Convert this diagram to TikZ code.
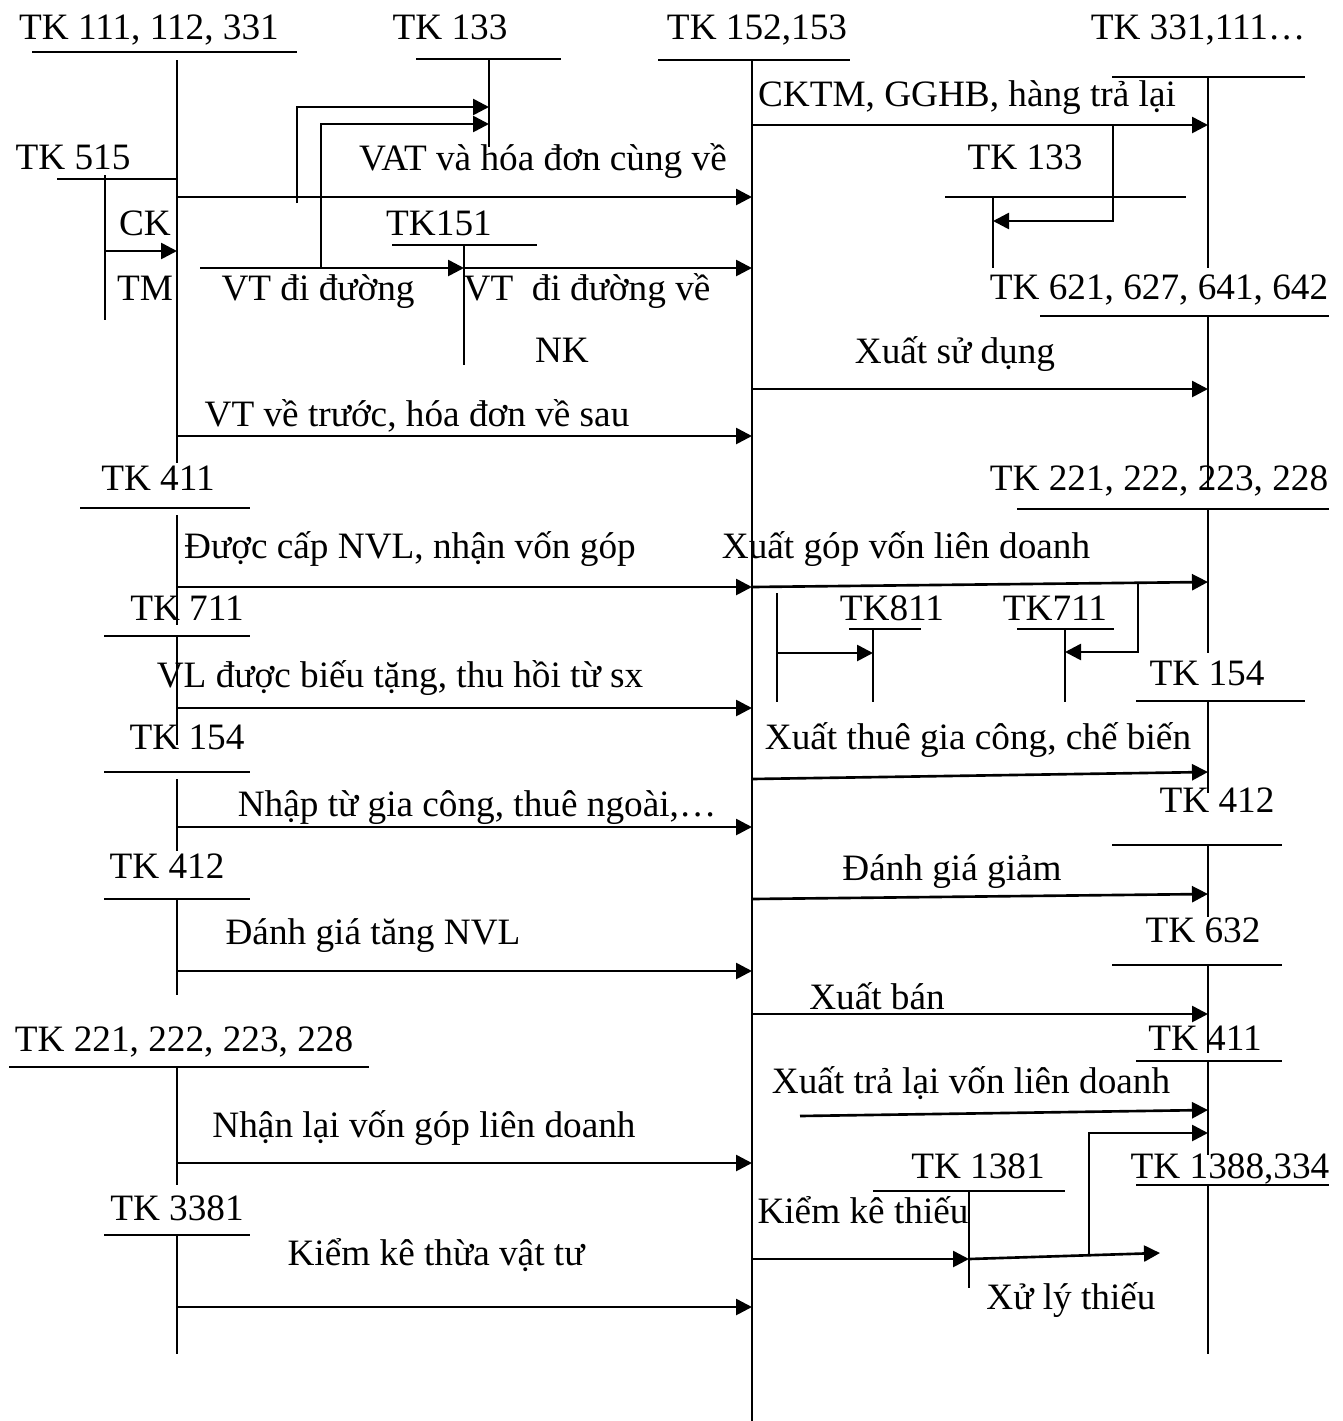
\documentclass[tikz,border=0pt]{standalone}
\usepackage{fontspec}
\setmainfont{Liberation Serif}
\usepackage{tikz}
\usetikzlibrary{arrows.meta,positioning}

\begin{document}
\begin{tikzpicture}[
    x=0.02cm, y=-0.02cm,
    every node/.style={font=\fontsize{21.2}{25}\selectfont, inner sep=0pt, text height=14pt, text depth=0pt},
    tline/.style={line width=1.1pt},
    arr/.style={-{Triangle[length=0.32cm, width=0.32cm]}, line width=1.5pt}
]
\useasboundingbox (0,0) rectangle (1343,1421);

% account titles
\node (tk111) at (149,27) {TK 111, 112, 331};
\node (tk133a) at (450,27) {TK 133};
\node (tk152) at (757,27) {TK 152,153};
\node (tk331) at (1198,27) {TK 331,111…};
\node (tk515) at (73,157) {TK 515};
\node (tk133b) at (1025,157) {TK 133};
\node (tk151) at (439,223) {TK151};
\node (tk621) at (1159,287) {TK 621, 627, 641, 642};
\node (tk411a) at (158,478) {TK 411};
\node (tk221b) at (1159,478) {TK 221, 222, 223, 228};
\node (tk711a) at (187,608) {TK 711};
\node (tk811) at (892,608) {TK811};
\node (tk711b) at (1055,608) {TK711};
\node (tk154b) at (1207,673) {TK 154};
\node (tk154a) at (187,737) {TK 154};
\node (tk412b) at (1217,800) {TK 412};
\node (tk412a) at (167,866) {TK 412};
\node (tk632) at (1203,930) {TK 632};
\node (tk221a) at (184,1039) {TK 221, 222, 223, 228};
\node (tk411b) at (1205,1038) {TK 411};
\node (tk1381) at (978,1166) {TK 1381};
\node (tk1388) at (1230,1166) {TK 1388,334};
\node (tk3381) at (177,1208) {TK 3381};

% texts on the arrows
\node (lblcktm) at (967,94) {CKTM, GGHB, hàng trả lại};
\node (lblvat) at (543,158) {VAT và hóa đơn cùng về};
\node (lblck) at (145,223) {CK};
\node (lbltm) at (145,288) {TM};
\node (lblvtdd) at (318,288) {VT đi đường};
\node (lblvtve) at (587,288) {VT\ \ đi đường về};
\node (lblnk) at (562,350) {NK};
\node (lblxsd) at (955,351) {Xuất sử dụng};
\node (lblvttr) at (417,414) {VT về trước, hóa đơn về sau};
\node (lblcap) at (410,546) {Được cấp NVL, nhận vốn góp};
\node (lblgop) at (906,546) {Xuất góp vốn liên doanh};
\node (lblbieu) at (400,675) {VL được biếu tặng, thu hồi từ sx};
\node (lblthue) at (978,737) {Xuất thuê gia công, chế biến};
\node (lblnhap) at (477,804) {Nhập từ gia công, thuê ngoài,…};
\node (lblgiam) at (952,868) {Đánh giá giảm};
\node (lbltang) at (373,932) {Đánh giá tăng NVL};
\node (lblban) at (877,997) {Xuất bán};
\node (lbltra) at (971,1081) {Xuất trả lại vốn liên doanh};
\node (lblnhanlai) at (424,1125) {Nhận lại vốn góp liên doanh};
\node (lblthieu) at (863,1211) {Kiểm kê thiếu};
\node (lblthua) at (436,1253) {Kiểm kê thừa vật tư};
\node (lblxl) at (1071,1297) {Xử lý thiếu};

% T accounts
\draw[tline] (32,52) -- (297,52) (177,60) -- (177,463);
\draw[tline] (416,59) -- (561,59) (489,59) -- (489,147);
\draw[tline] (658,60) -- (850,60) (752,60) -- (752,1421);
\draw[tline] (1112,77) -- (1305,77) (1208,77) -- (1208,268);
\draw[tline] (57,179) -- (177,179) (105,175) -- (105,320);
\draw[tline] (945,197) -- (1186,197) (993,197) -- (993,268);
\draw[tline] (392,245) -- (537,245) (464,245) -- (464,365);
\draw[tline] (1040,316) -- (1329,316) (1208,316) -- (1208,490);
\draw[tline] (80,508) -- (250,508) (177,515) -- (177,625);
\draw[tline] (1017,509) -- (1329,509) (1208,509) -- (1208,653);
\draw[tline] (104,636) -- (250,636) (177,636) -- (177,745);
\draw[tline] (849,629) -- (921,629) (873,629) -- (873,702);
\draw[tline] (777,593) -- (777,702);
\draw[tline] (1017,629) -- (1114,629) (1065,629) -- (1065,702);
\draw[tline] (1136,701) -- (1305,701) (1208,701) -- (1208,793);
\draw[tline] (104,772) -- (250,772) (177,779) -- (177,851);
\draw[tline] (1112,845) -- (1282,845) (1208,845) -- (1208,917);
\draw[tline] (104,899) -- (250,899) (177,899) -- (177,995);
\draw[tline] (1112,965) -- (1282,965) (1208,965) -- (1208,1053);
\draw[tline] (9,1067) -- (369,1067) (177,1067) -- (177,1185);
\draw[tline] (1136,1061) -- (1282,1061) (1208,1061) -- (1208,1155);
\draw[tline] (873,1191) -- (1065,1191) (969,1191) -- (969,1288);
\draw[tline] (1136,1185) -- (1329,1185) (1208,1185) -- (1208,1354);
\draw[tline] (104,1235) -- (250,1235) (177,1235) -- (177,1354);

% arrow ends
\path (177,197) coordinate (vatS) (752,197) coordinate (vatE)
      (297,203) coordinate (vat1S) (489,107) coordinate (vat1E)
      (321,268) coordinate (vat2S) (489,124) coordinate (vat2E)
      (105,251) coordinate (ckS) (177,251) coordinate (ckE)
      (200,268) coordinate (vtddS) (464,268) coordinate (vtddE)
      (752,268) coordinate (vtveE)
      (752,125) coordinate (cktmS) (1208,125) coordinate (cktmE)
      (1113,125) coordinate (vatrS) (993,221) coordinate (vatrE)
      (752,389) coordinate (xsdS) (1208,389) coordinate (xsdE)
      (177,436) coordinate (vttrS) (752,436) coordinate (vttrE)
      (177,587) coordinate (capS) (752,587) coordinate (capE)
      (1208,582) coordinate (gopE)
      (1138,582) coordinate (lai1S) (1065,652) coordinate (lai1E)
      (777,653) coordinate (lo1S) (873,653) coordinate (lo1E)
      (177,708) coordinate (bieuS) (752,708) coordinate (bieuE)
      (752,779) coordinate (thueS) (1208,772) coordinate (thueE)
      (177,827) coordinate (nhapS) (752,827) coordinate (nhapE)
      (752,899) coordinate (giamS) (1208,894) coordinate (giamE)
      (177,971) coordinate (tangS) (752,971) coordinate (tangE)
      (752,1014) coordinate (banS) (1208,1014) coordinate (banE)
      (800,1116) coordinate (traS) (1208,1110) coordinate (traE)
      (177,1163) coordinate (nhanlaiS) (752,1163) coordinate (nhanlaiE)
      (752,1259) coordinate (thieuS) (969,1259) coordinate (thieuE)
      (1160,1253) coordinate (xlE)
      (1089,1255) coordinate (xl2S) (1208,1133) coordinate (xl2E)
      (177,1307) coordinate (thuaS) (752,1307) coordinate (thuaE);

\draw[arr] (vatS) -- (vatE);
\draw[arr] (vat1S) |- (vat1E);
\draw[arr] (vat2S) |- (vat2E);
\draw[arr] (ckS) -- (ckE);
\draw[arr] (vtddS) -- (vtddE);
\draw[arr] (vtddE) -- (vtveE);
\draw[arr] (cktmS) -- (cktmE);
\draw[arr] (vatrS) |- (vatrE);
\draw[arr] (xsdS) -- (xsdE);
\draw[arr] (vttrS) -- (vttrE);
\draw[arr] (capS) -- (capE);
\draw[arr] (capE) -- (gopE);
\draw[arr] (lai1S) |- (lai1E);
\draw[arr] (lo1S) -- (lo1E);
\draw[arr] (bieuS) -- (bieuE);
\draw[arr] (thueS) -- (thueE);
\draw[arr] (nhapS) -- (nhapE);
\draw[arr] (giamS) -- (giamE);
\draw[arr] (tangS) -- (tangE);
\draw[arr] (banS) -- (banE);
\draw[arr] (traS) -- (traE);
\draw[arr] (nhanlaiS) -- (nhanlaiE);
\draw[arr] (thieuS) -- (thieuE);
\draw[arr] (thieuE) -- (xlE);
\draw[arr] (xl2S) |- (xl2E);
\draw[arr] (thuaS) -- (thuaE);

\end{tikzpicture}
\end{document}
